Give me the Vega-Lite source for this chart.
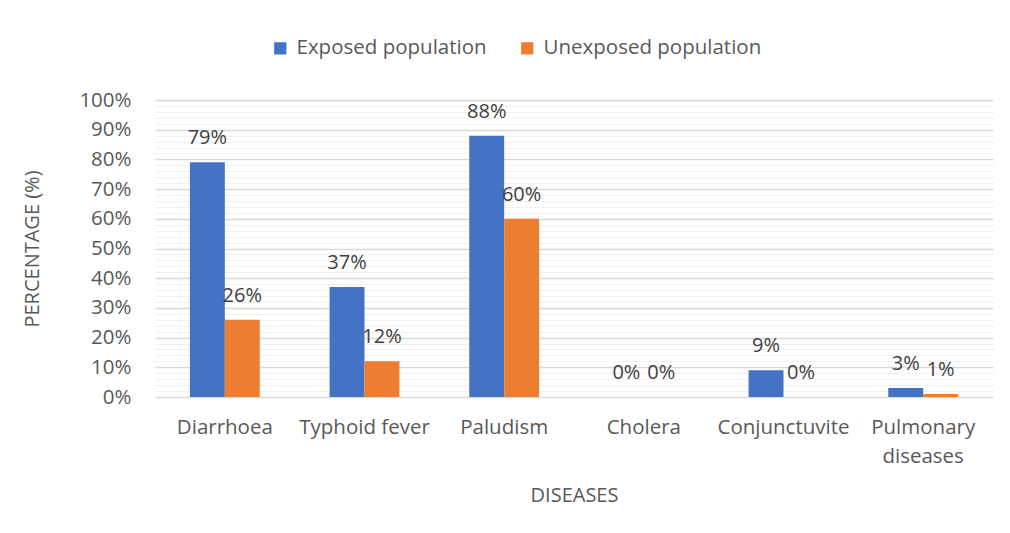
{
  "$schema": "https://vega.github.io/schema/vega-lite/v6.json",
  "width": 838,
  "height": 297,
  "autosize": {"type": "none"},
  "padding": {"left": 155, "top": 100, "right": 17, "bottom": 136},
  "background": "white",
  "config": {
    "font": "Open Sans",
    "view": {"stroke": null},
    "axis": {"labelFont": "Open Sans", "titleFont": "Open Sans", "labelColor": "#595959", "titleColor": "#595959", "labelFontSize": 20.5, "titleFontSize": 20, "titleFontWeight": "normal"},
    "legend": {"labelFont": "Open Sans", "labelFontSize": 20.5, "labelColor": "#595959", "labelLimit": 400}
  },
  "data": {
    "values": [
      {"disease": "Diarrhoea", "group": "Exposed population", "value": 0.79},
      {"disease": "Diarrhoea", "group": "Unexposed population", "value": 0.26},
      {"disease": "Typhoid fever", "group": "Exposed population", "value": 0.37},
      {"disease": "Typhoid fever", "group": "Unexposed population", "value": 0.12},
      {"disease": "Paludism", "group": "Exposed population", "value": 0.88},
      {"disease": "Paludism", "group": "Unexposed population", "value": 0.60},
      {"disease": "Cholera", "group": "Exposed population", "value": 0.0},
      {"disease": "Cholera", "group": "Unexposed population", "value": 0.0},
      {"disease": "Conjunctuvite", "group": "Exposed population", "value": 0.09},
      {"disease": "Conjunctuvite", "group": "Unexposed population", "value": 0.0},
      {"disease": "Pulmonary diseases", "group": "Exposed population", "value": 0.03},
      {"disease": "Pulmonary diseases", "group": "Unexposed population", "value": 0.01}
    ]
  },
  "encoding": {
    "x": {
      "field": "disease", "type": "nominal", "sort": null,
      "scale": {"paddingInner": 0.5, "paddingOuter": 0.25},
      "axis": {
        "title": "DISEASES", "labelAngle": 0, "ticks": false, "domain": false,
        "labelPadding": 20, "labelLineHeight": 29, "titlePadding": 19,
        "labelExpr": "datum.value == 'Pulmonary diseases' ? ['Pulmonary', 'diseases'] : datum.value"
      }
    },
    "xOffset": {"field": "group", "type": "nominal"},
    "y": {
      "field": "value", "type": "quantitative",
      "scale": {"domain": [0, 1], "nice": false},
      "axis": {
        "title": "PERCENTAGE (%)", "titlePadding": 36,
        "values": [0,0.02,0.04,0.06,0.08,0.1,0.12,0.14,0.16,0.18,0.2,0.22,0.24,0.26,0.28,0.3,0.32,0.34,0.36,0.38,0.4,0.42,0.44,0.46,0.48,0.5,0.52,0.54,0.56,0.58,0.6,0.62,0.64,0.66,0.68,0.7,0.72,0.74,0.76,0.78,0.8,0.82,0.84,0.86,0.88,0.9,0.92,0.94,0.96,0.98,1],
        "labelExpr": "round(datum.value*100) % 10 === 0 ? format(datum.value, '.0%') : ''",
        "ticks": false, "domain": false, "labelPadding": 24,
        "gridColor": {"condition": {"test": "round(datum.value*100) % 10 === 0", "value": "#d9d9d9"}, "value": "#f0f0f0"},
        "gridWidth": {"condition": {"test": "round(datum.value*100) % 10 === 0", "value": 1.5}, "value": 1}
      }
    }
  },
  "layer": [
    {
      "mark": {"type": "bar"},
      "encoding": {
        "color": {
          "field": "group", "type": "nominal",
          "scale": {"range": ["#4472C4", "#ED7D31"]},
          "legend": {"title": null, "orient": "none", "direction": "horizontal", "legendX": 115, "legendY": -62, "symbolType": "square", "symbolSize": 150, "symbolStrokeWidth": 0, "columnPadding": 30, "labelOffset": 6}
        }
      }
    },
    {
      "mark": {"type": "text", "fontSize": 20, "color": "#404040", "dy": -24, "font": "Open Sans"},
      "encoding": {
        "text": {"field": "value", "type": "quantitative", "format": ".0%"}
      }
    }
  ]
}
